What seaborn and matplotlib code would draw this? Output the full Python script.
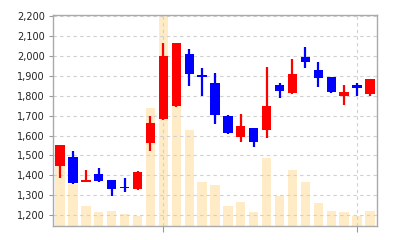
import numpy as np
import pandas as pd
import matplotlib
matplotlib.use("Agg")
import matplotlib.pyplot as plt
import seaborn as sns
from matplotlib.ticker import FuncFormatter

# ---- data ----
opens  = [1448, 1493, 1368, 1408, 1377, 1343, 1330, 1561, 1685, 1750, 2008, 1905, 1862,
          1700, 1594, 1638, 1628, 1855, 1812, 1996, 1929, 1892, 1800, 1855, 1807]
closes = [1553, 1360, 1378, 1370, 1333, 1336, 1415, 1665, 2000, 2063, 1907, 1896, 1703,
          1611, 1648, 1569, 1747, 1824, 1911, 1968, 1887, 1817, 1820, 1840, 1882]
highs  = [1553, 1523, 1428, 1438, 1378, 1388, 1423, 1700, 2063, 2065, 2033, 1937, 1912,
          1702, 1708, 1640, 1946, 1862, 1983, 2043, 1971, 1895, 1854, 1862, 1885]
lows   = [1388, 1355, 1365, 1365, 1297, 1315, 1328, 1522, 1680, 1742, 1847, 1799, 1657,
          1606, 1569, 1544, 1586, 1787, 1810, 1941, 1842, 1815, 1753, 1800, 1800]
volumes = [61, 42, 20, 14, 15, 12, 10, 118, 240, 135, 96, 44, 41,
           20, 24, 14, 68, 30, 56, 44, 23, 15, 14, 10.5, 15.5]  # thousands
price_ticks = [1200, 1300, 1400, 1500, 1600, 1700, 1800, 1900, 2000, 2100, 2200]
month_marks = [8, 23]

df = pd.DataFrame({"i": np.arange(len(opens)), "open": opens, "close": closes,
                   "high": highs, "low": lows, "volume": volumes})
df["up"] = df["close"] >= df["open"]

sns.set_style("white")
plt.rcParams["font.family"] = ["DejaVu Sans"]

fig = plt.figure(figsize=(4, 2.4), dpi=100)
ax = fig.add_axes([0.1325, 0.0583, 0.81, 0.8792])
ax2 = ax.twinx()

# volume bars (behind)
sns.barplot(data=df, x="i", y="volume", native_scale=True, color="#FFEBC6",
            saturation=1, width=0.72, ax=ax2, linewidth=0)
ax2.set_ylim(0, 211)
ax2.set_yticks([])
ax2.set_ylabel("")
ax2.set_xlabel("")
for s in ax2.spines.values():
    s.set_visible(False)

ax.set_zorder(ax2.get_zorder() + 1)
ax.patch.set_visible(False)

colors = np.where(df["up"], "#FF0000", "#0000FF")
ax.vlines(df["i"], df["low"], df["high"], colors=colors, linewidth=1.6, zorder=3)
body_lo = np.minimum(df["open"], df["close"])
body_h = np.maximum(np.abs(df["close"] - df["open"]), 4)
ax.bar(df["i"], body_h, bottom=body_lo, width=0.72, color=colors, linewidth=0, zorder=4)

ax.set_xlim(-0.55, 24.55)
ax.set_ylim(1146, 2205)
ax.set_yticks(price_ticks)
ax.yaxis.set_major_formatter(FuncFormatter(lambda v, p: f"{int(v):,}"))
ax.set_xticks(month_marks)
ax.set_xticklabels([])
ax2.set_xlim(-0.55, 24.55)

ax.grid(True, axis="y", color="#D0D0D0", linestyle=(0, (3, 3)), linewidth=0.8)
ax.grid(True, axis="x", color="#D0D0D0", linestyle=(0, (3, 3)), linewidth=0.8)
ax.tick_params(axis="y", left=True, length=3, width=0.8, color="#999999",
               labelsize=7, labelcolor="#222222", pad=3)
ax.tick_params(axis="x", bottom=True, length=4, width=0.8, color="#999999")
for s in ax.spines.values():
    s.set_visible(True)
    s.set_color("#AAAAAA")
    s.set_linewidth(1.0)

fig.savefig("out.png", dpi=100)
